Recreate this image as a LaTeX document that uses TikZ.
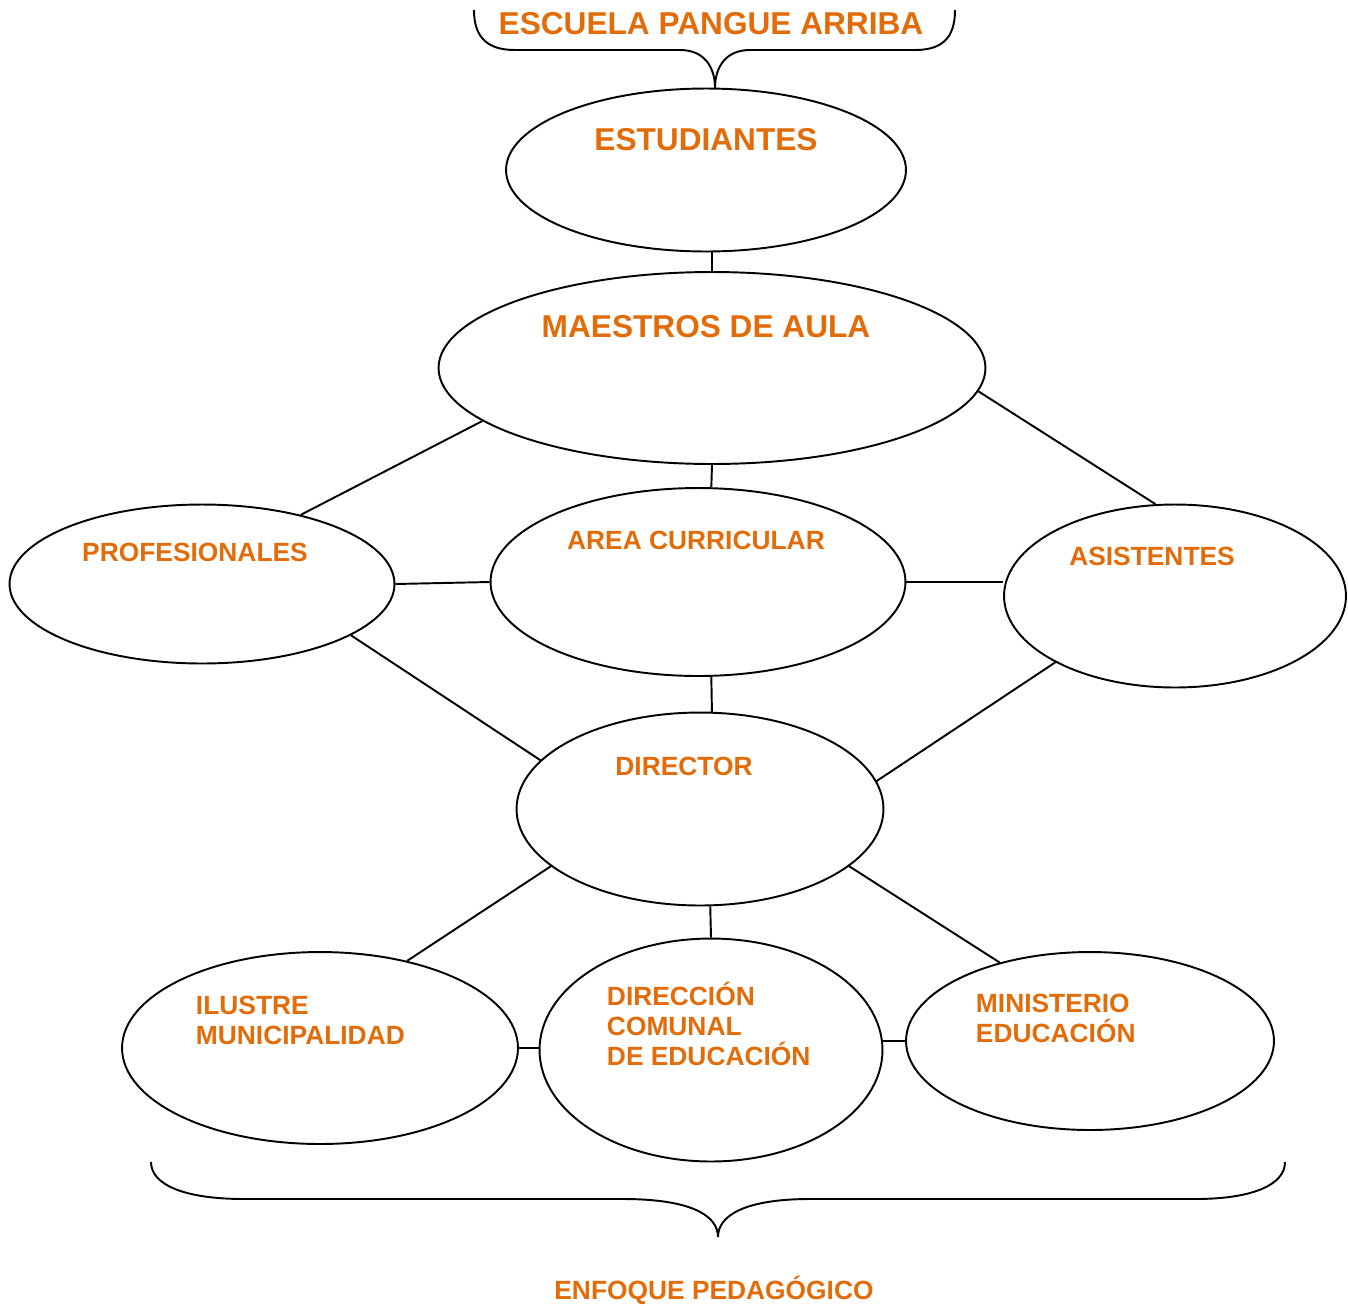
\documentclass[tikz,border=0pt]{standalone}
\usepackage{fontspec}
\setmainfont{Liberation Sans}
\usetikzlibrary{shapes.geometric}
\definecolor{naranja}{HTML}{E36C0A}

\begin{document}
\begin{tikzpicture}[x=0.02cm,y=-0.02cm,line width=1.1pt,
  globo/.style={draw,ellipse,inner sep=0},
  titulo/.style={text=naranja,font=\fontsize{18}{21}\selectfont\bfseries,inner sep=0},
  rotulo/.style={text=naranja,font=\fontsize{15}{17}\selectfont\bfseries,inner sep=0,align=left}]
\useasboundingbox (0,0) rectangle (1348,1305);

% ellipses
\node[globo,minimum width=8cm,minimum height=3.26cm] (estud) at (706,170) {};
\node[globo,minimum width=10.94cm,minimum height=3.84cm] (maes) at (712,368) {};
\node[globo,minimum width=8.3cm,minimum height=3.76cm] (area) at (698,582) {};
\node[globo,minimum width=7.7cm,minimum height=3.18cm] (prof) at (202,584) {};
\node[globo,minimum width=6.84cm,minimum height=3.66cm] (asist) at (1175,596) {};
\node[globo,minimum width=7.34cm,minimum height=3.86cm] (dir) at (700,809) {};
\node[globo,minimum width=7.92cm,minimum height=3.84cm] (ilus) at (320,1048) {};
\node[globo,minimum width=6.86cm,minimum height=4.46cm] (dirc) at (711,1050) {};
\node[globo,minimum width=7.36cm,minimum height=3.56cm] (mini) at (1090,1041) {};

% texts
\node[titulo] (t-escuela) at (711,24) {ESCUELA PANGUE ARRIBA};
\node[titulo] (t-estud) at (706,140) {ESTUDIANTES};
\node[titulo] (t-maes) at (706,327) {MAESTROS DE AULA};
\node[rotulo] (t-area) at (696,540) {AREA CURRICULAR};
\node[rotulo] (t-prof) at (195,552) {PROFESIONALES};
\node[rotulo] (t-asist) at (1152,556) {ASISTENTES};
\node[rotulo] (t-dir) at (684,766) {DIRECTOR};
\node[rotulo,anchor=west] (t-ilus) at (195,1020) {ILUSTRE\\MUNICIPALIDAD};
\node[rotulo,anchor=west] (t-dirc) at (606,1024) {DIRECCIÓN\\COMUNAL\\DE EDUCACIÓN};
\node[rotulo,anchor=west] (t-mini) at (975,1018) {MINISTERIO\\EDUCACIÓN};
\node[rotulo] (t-enfoque) at (714,1290) {ENFOQUE PEDAGÓGICO};

% connectors
\draw (maes.north |- estud.south) -- (maes.north);
\draw (maes.south) -- (area.82);
\draw (maes.193) -- (prof.35);
\draw (maes.355) -- (asist.102.5);
\draw (prof.east) -- (area.west);
\draw (area.east) -- (area.east -| asist.west);
\draw (area.278) -- (dir.83);
\draw (prof.341) -- (dir.163);
\draw (asist.209) -- (dir.9.6);
\draw (dir.201) -- (ilus.45);
\draw (dir.276.5) -- (dirc.north);
\draw (dir.339.4) -- (mini.139);
\draw (ilus.east) -- (ilus.east -| dirc.west);
\draw (mini.west -| dirc.east) -- (mini.west);

% braces
\draw (474,10) .. controls (474,38) and (488,50) .. (515,50) -- (680,50)
  .. controls (705,50) and (715,68) .. (715,88)
  .. controls (715,68) and (725,50) .. (750,50) -- (915,50)
  .. controls (942,50) and (955,38) .. (955,10);
\draw (151,1162) .. controls (151,1185) and (185,1199) .. (244,1199) -- (623,1199)
  .. controls (690,1199) and (718,1215) .. (718,1237)
  .. controls (718,1215) and (746,1199) .. (810,1199) -- (1195,1199)
  .. controls (1252,1199) and (1285,1185) .. (1285,1162);
\end{tikzpicture}
\end{document}
